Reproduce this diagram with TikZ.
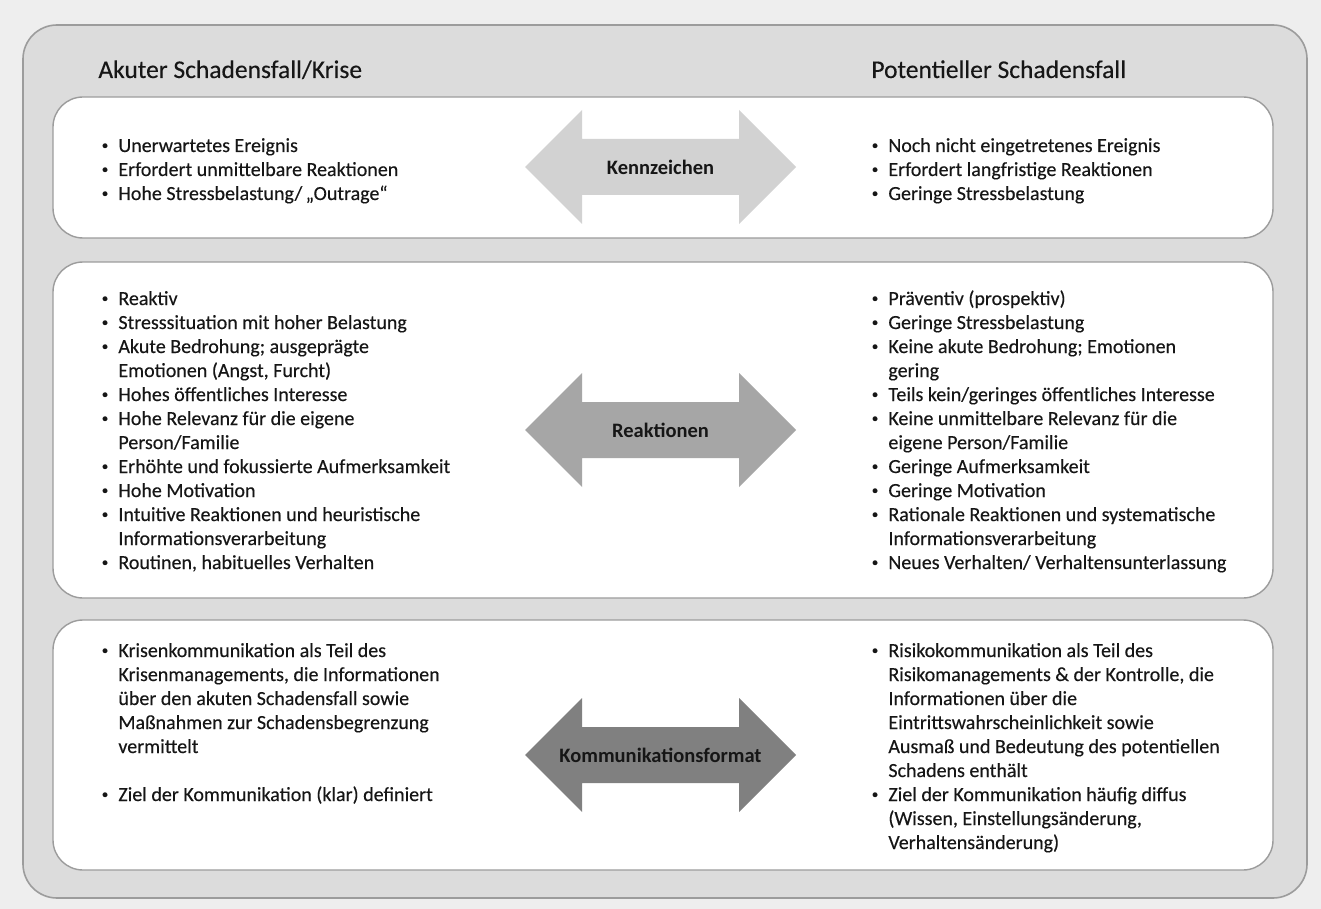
\documentclass[tikz,border=0pt]{standalone}
\usepackage{fontspec}
\setmainfont{Carlito}[UprightFeatures={FakeBold=0.3}]
\definecolor{bgc}{HTML}{EEEEEE}
\definecolor{outerc}{HTML}{DCDCDC}
\definecolor{framec}{HTML}{9C9C9C}
\definecolor{txtc}{HTML}{161616}
\definecolor{arrA}{HTML}{D2D2D2}
\definecolor{arrB}{HTML}{A6A6A6}
\definecolor{arrC}{HTML}{808080}
\newcommand\bul{\hspace*{2.2pt}{\fontsize{6.5}{7}\selectfont\raisebox{1.3pt}{•}}}
\newenvironment{blist}{\begin{tabular}[t]{@{}p{10.5pt}@{}l@{}}}{\end{tabular}}
\tikzset{
  outerbox/.style={fill=outerc,draw=framec,line width=0.8pt,rounded corners=17pt},
  innerbox/.style={fill=white,draw=framec,line width=0.7pt,rounded corners=15pt},
  listtext/.style={inner sep=0pt,anchor=base west,text=txtc,font=\fontsize{10}{12}\selectfont},
  heading/.style={inner sep=0pt,anchor=base west,text=txtc,font=\fontsize{12.75}{15}\selectfont},
  arrlabel/.style={inner sep=0pt,text=txtc,font=\bfseries\fontsize{10.25}{12}\selectfont},
  dblarrow/.pic={\fill[pic actions] (-135.5,0) -- (-78.5,-57) -- (-78.5,-28) -- (78.5,-28) -- (78.5,-57) -- (135.5,0) -- (78.5,57) -- (78.5,28) -- (-78.5,28) -- (-78.5,57) -- cycle;}
}
\begin{document}
\begin{tikzpicture}[x=0.5pt,y=-0.5pt]
\useasboundingbox[fill=bgc] (0,0) rectangle (1321,909);
\draw[outerbox] (23,25) rectangle (1307,898);
\draw[innerbox] (53,97) rectangle (1273,238);
\draw[innerbox] (53,262) rectangle (1273,598);
\draw[innerbox] (53,620) rectangle (1273,870);

\node[heading] (hl) at (98,78) {Akuter Schadensfall/Krise};
\node[heading] (hr) at (871,78) {Potentieller Schadensfall};

% arrows
\pic[fill=arrA] at (660.5,167) {dblarrow};
\node[arrlabel] (a1) at (660.5,167) {Kennzeichen};
\pic[fill=arrB] at (660.5,430) {dblarrow};
\node[arrlabel] (a2) at (660.5,430) {Reaktionen};
\pic[fill=arrC] at (660.5,755) {dblarrow};
\node[arrlabel] (a3) at (660.5,755) {Kommunikationsformat};

% box 1
\node[listtext] (l1) at (97,152) {\begin{blist}
\bul & Unerwartetes Ereignis\\
\bul & Erfordert unmittelbare Reaktionen\\
\bul & Hohe Stressbelastung/\,„Outrage“
\end{blist}};
\node[listtext] (r1) at (867,152) {\begin{blist}
\bul & Noch nicht eingetretenes Ereignis\\
\bul & Erfordert langfristige Reaktionen\\
\bul & Geringe Stressbelastung
\end{blist}};

% box 2
\node[listtext] (l2) at (97,305) {\begin{blist}
\bul & Reaktiv\\
\bul & Stresssituation mit hoher Belastung\\
\bul & Akute Bedrohung; ausgeprägte\\
 & Emotionen (Angst, Furcht)\\
\bul & Hohes öffentliches Interesse\\
\bul & Hohe Relevanz für die eigene\\
 & Person/Familie\\
\bul & Erhöhte und fokussierte Aufmerksamkeit\\
\bul & Hohe Motivation\\
\bul & Intuitive Reaktionen und heuristische\\
 & Informationsverarbeitung\\
\bul & Routinen, habituelles Verhalten
\end{blist}};
\node[listtext] (r2) at (867,305) {\begin{blist}
\bul & Präventiv (prospektiv)\\
\bul & Geringe Stressbelastung\\
\bul & Keine akute Bedrohung; Emotionen\\
 & gering\\
\bul & Teils kein/geringes öffentliches Interesse\\
\bul & Keine unmittelbare Relevanz für die\\
 & eigene Person/Familie\\
\bul & Geringe Aufmerksamkeit\\
\bul & Geringe Motivation\\
\bul & Rationale Reaktionen und systematische\\
 & Informationsverarbeitung\\
\bul & Neues Verhalten/ Verhaltensunterlassung
\end{blist}};

% box 3
\node[listtext] (l3) at (97,657) {\begin{blist}
\bul & Krisenkommunikation als Teil des\\
 & Krisenmanagements, die Informationen\\
 & über den akuten Schadensfall sowie\\
 & Maßnahmen zur Schadensbegrenzung\\
 & vermittelt\\
 & \\
\bul & Ziel der Kommunikation (klar) definiert
\end{blist}};
\node[listtext] (r3) at (867,657) {\begin{blist}
\bul & Risikokommunikation als Teil des\\
 & Risikomanagements \& der Kontrolle, die\\
 & Informationen über die\\
 & Eintrittswahrscheinlichkeit sowie\\
 & Ausmaß und Bedeutung des potentiellen\\
 & Schadens enthält\\
\bul & Ziel der Kommunikation häufig diffus\\
 & (Wissen, Einstellungsänderung,\\
 & Verhaltensänderung)
\end{blist}};
\end{tikzpicture}
\end{document}
